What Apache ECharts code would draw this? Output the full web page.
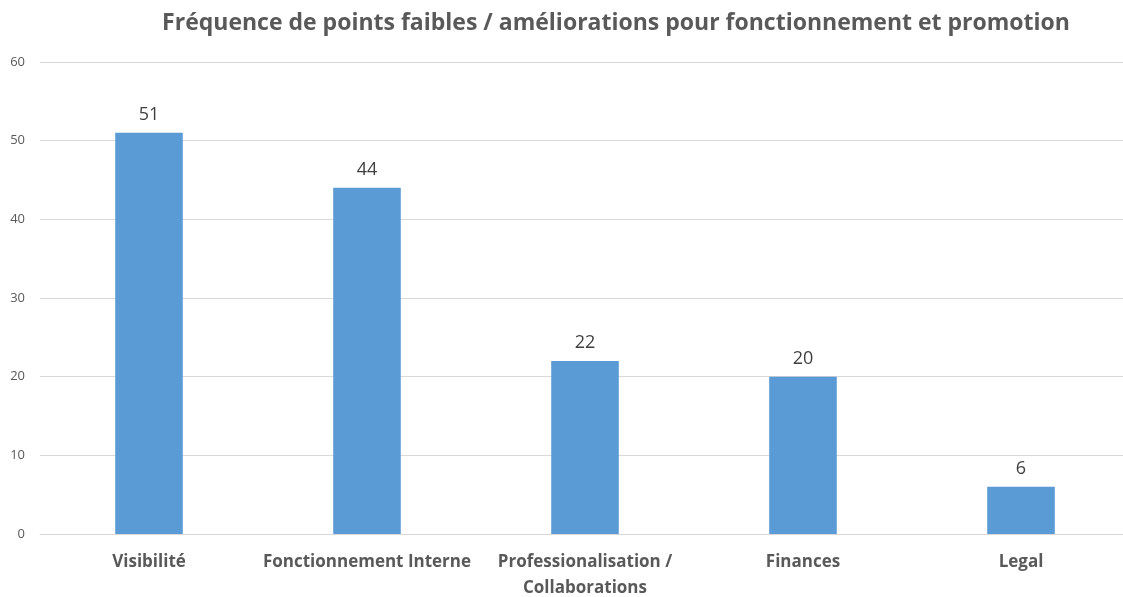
<!DOCTYPE html>
<html>
<head>
<meta charset="utf-8">
<script src="https://cdn.jsdelivr.net/npm/echarts@6/dist/echarts.min.js"></script>
<style>
  html, body { margin: 0; padding: 0; background: #fff; }
  #chart { width: 1123px; height: 597px; }
</style>
</head>
<body>
<div id="chart"></div>
<script>
// categories and counts
const categories = ['Visibilité', 'Fonctionnement Interne', 'Professionalisation /\nCollaborations', 'Finances', 'Legal']
const counts = [51, 44, 22, 20, 6]
const yTicks = { min: 0, max: 60, interval: 10 }

const chart = echarts.init(document.getElementById('chart'))
chart.setOption({
  animation: false,
  title: {
    text: 'Fréquence de points faibles / améliorations pour fonctionnement et promotion',
    left: 611,
    textAlign: 'center',
    top: 7,
    textStyle: { fontFamily: 'Open Sans', fontSize: 23, fontWeight: 'bold', color: '#595959' }
  },
  grid: { left: 40, top: 62, width: 1090, height: 472, outerBoundsMode: 'none' },
  xAxis: {
    type: 'category',
    data: categories,
    axisTick: { show: false },
    axisLine: { lineStyle: { color: '#d9d9d9' } },
    axisLabel: {
      interval: 0,
      margin: 15,
      fontFamily: 'Open Sans', fontSize: 17, fontWeight: 'bold', color: '#595959',
      lineHeight: 26
    }
  },
  yAxis: {
    type: 'value',
    min: yTicks.min, max: yTicks.max, interval: yTicks.interval,
    axisLine: { show: false },
    axisTick: { show: false },
    splitLine: { lineStyle: { color: '#d9d9d9' } },
    axisLabel: { margin: 15, fontFamily: 'Open Sans', fontSize: 13, color: '#595959' }
  },
  series: [{
    type: 'bar',
    data: counts,
    barWidth: '31%',
    itemStyle: { color: '#5b9bd5' },
    label: {
      show: true, position: 'top', distance: 9,
      fontFamily: 'Open Sans', fontSize: 18, color: '#404040'
    }
  }]
})
</script>
</body>
</html>
